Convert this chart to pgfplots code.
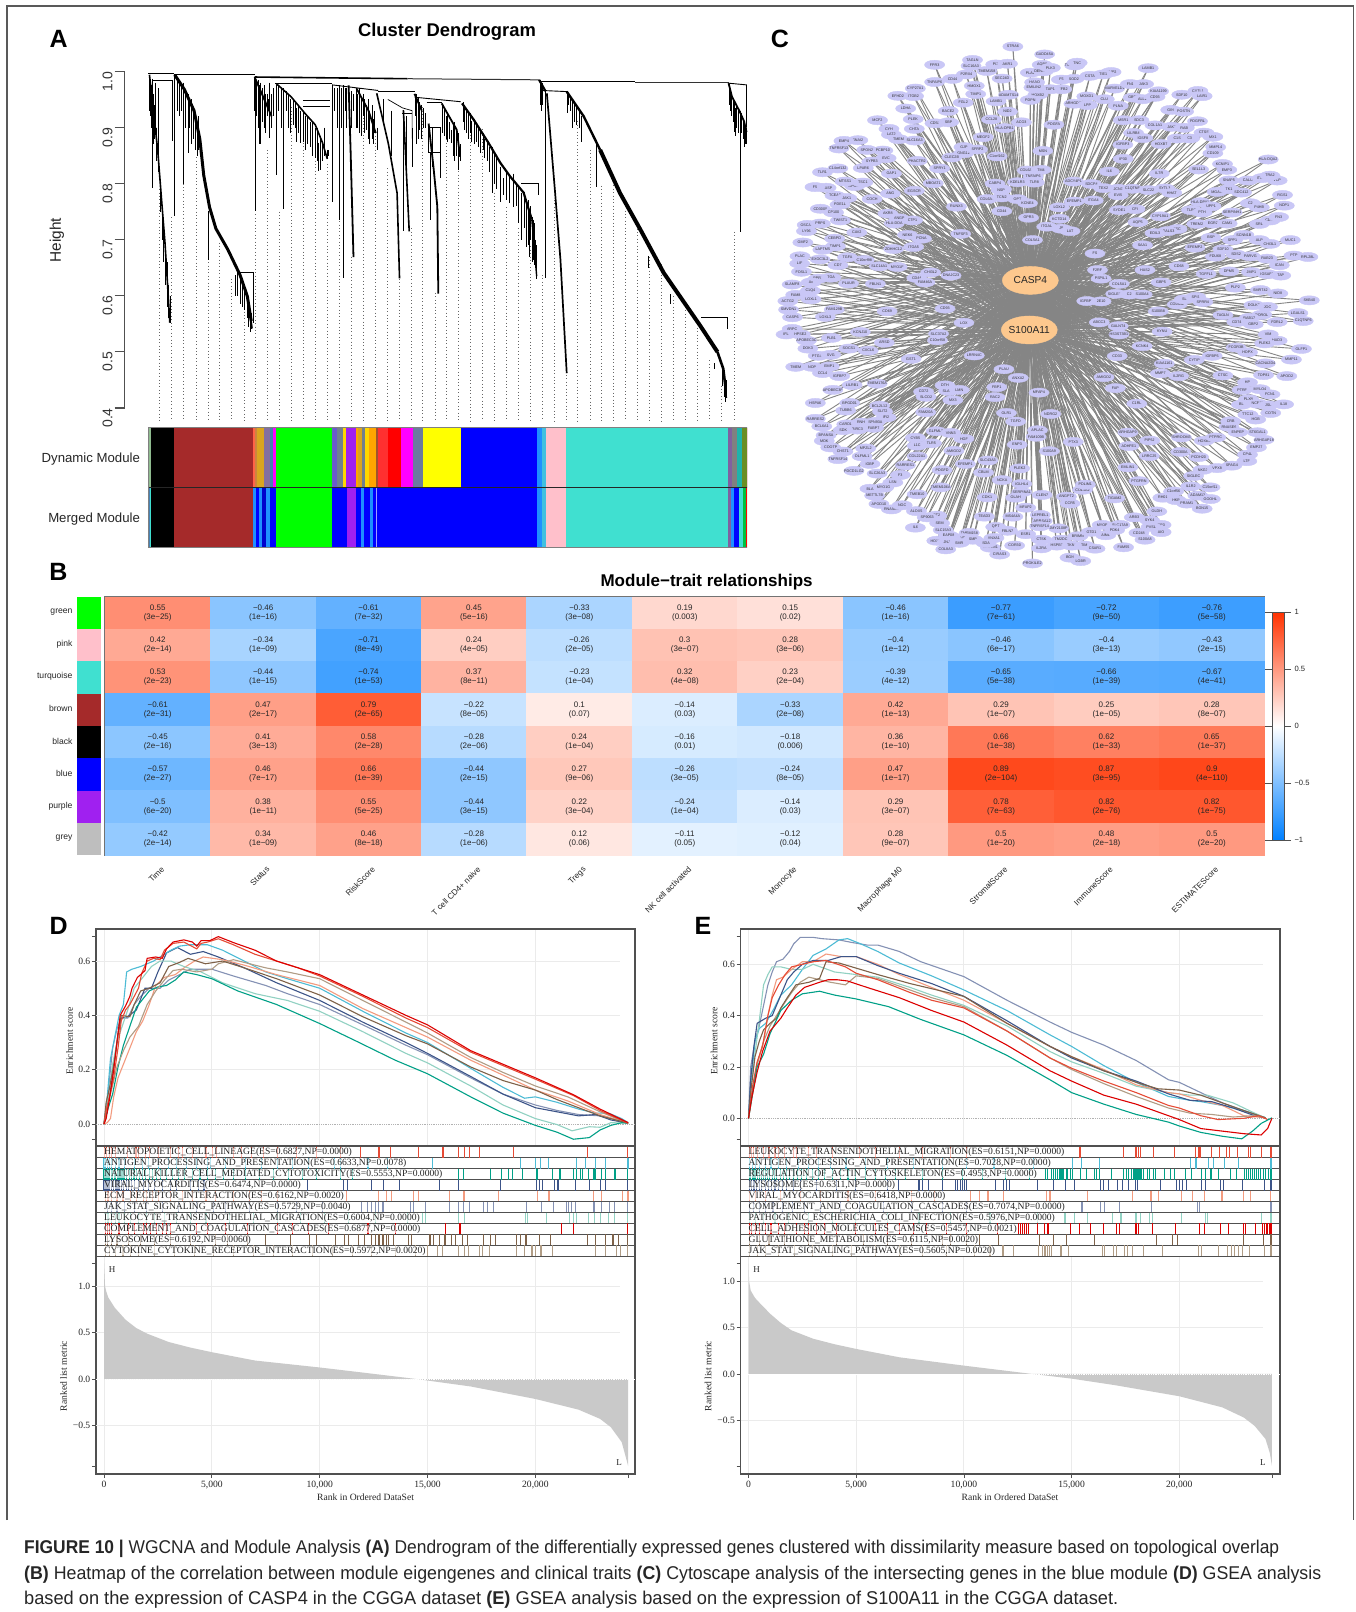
\documentclass[border=0pt]{standalone}
\usepackage{pgfplots}
\usepackage{pgfplotstable}
\usepackage{fontspec}
\pgfplotsset{compat=1.18}
\setmainfont{Liberation Sans}
\newfontfamily\tnr{Liberation Serif}
\newcommand\fs[1]{\fontsize{#1}{#1}\selectfont}
\definecolor{nc1}{HTML}{E64B35}\definecolor{nc2}{HTML}{4DBBD5}\definecolor{nc3}{HTML}{00A087}
\definecolor{nc4}{HTML}{3C5488}\definecolor{nc5}{HTML}{F39B7F}\definecolor{nc6}{HTML}{8491B4}
\definecolor{nc7}{HTML}{91D1C2}\definecolor{nc8}{HTML}{DC0000}\definecolor{nc9}{HTML}{7E6148}
\definecolor{nc10}{HTML}{B09C85}
\definecolor{boxc}{HTML}{505050}\definecolor{gridc}{HTML}{EBEBEB}
\definecolor{nodec}{HTML}{C9C7F6}\definecolor{hubc}{HTML}{FDC88E}\definecolor{edgec}{HTML}{858585}
\pgfplotsset{every axis/.append style={scale only axis},
  /pgf/number format/assume math mode=true,
  gsea/.style={scaled x ticks=false,axis line style={boxc,line width=1.2pt},tick style={boxc,line width=.8pt},
    tick align=outside,major tick length=4pt,ytick pos=left,xtick pos=bottom,
    xmajorgrids,major grid style={gridc,line width=1pt},
    tick label style={font=\tnr\fs{9.6},text=black!85},
    yticklabel style={inner sep=1.5pt}},
  es/.style={line width=1.1pt,forget plot}}
\newcommand\seg[5]{\xglobal\definecolor{x#1}{HTML}{#1}\addplot[fill=x#1,draw=none,forget plot] coordinates {(#2,#4)(#3,#4)(#3,#5)(#2,#5)} -- cycle;}
\newcommand\rug[4]{\gdef\tmpc{}\foreach \v in {#4}{\pgfmathsetmacro\rr{(\v-#3)*1.832}\xdef\tmpc{\tmpc(\rr e1,#2)}}%
  \edef\tmpp{\noexpand\addplot[only marks,mark=|,mark size=5.45pt,mark options={draw=#1,line width=1.1pt},forget plot] coordinates {\tmpc};}\tmpp}
\newcommand\rugtext[3]{\node[anchor=west,inner sep=0pt,fill=white,fill opacity=.62,text opacity=1,font=\tnr\fs{9.6},text=black!85] at (#1pt,-#2pt) {#3};}
\newcommand\hc[4]{\node[align=center,inner sep=0pt,font=\fs{8},text=black!85] at (axis cs:#1,#2) {#3\\[1pt](#4)};}
\pgfplotstableread{
x y label
680 48 STRA6
769 71 GADD45A
461 101 FPR3
567 87 TAGLN
563 104 SLC16A3
632 100 PI3
665 98 AKR1
762 101 AQP9
853 103 TMEM176A
860 95 TNC
1059 111 LAMB1
607 119 TMEM158
550 129 P2RX4
511 142 CD44
461 151 TNFAIP6
650 141 SEC24D
729 124 PLA2
765 120 DENND2D
785 110 PLK3
955 122 TIMP2
933 129 TIE1
896 133 CSTA
816 144 F5
851 142 SOD2
741 152 HAAO
739 167 EMILIN2
572 162 HMOX1
407 170 CYP27A1
402 192 ITGB2
358 191 EFHD2
576 186 TIMP1
668 188 ADAMTS14
750 188 HOXB2
817 172 TGFB2
785 172 TAP1
887 193 MOXD1
936 201 CLU
965 170 MARVELD1
1009 157 FN1
1046 157 JAK3
1017 196 GBP2
1043 201 ALL2
1088 178 KIAA1199
1078 194 CD93
1153 188 SDF10
1198 177 CYTL1
1210 192 LAIR1
541 211 FGL2
633 207 LAMB1
729 203 PDPN
665 237 NID2
499 235 BACE2
380 228 LDHA
401 259 PLEK
404 287 CHTA
462 271 CD58
500 268 SBP
620 260 CCL28
704 268 ACO3
657 285 HLA-DPB1
795 275 PDGFA
851 214 ARHGDIB
889 218 LPP
975 220 PLNA
989 262 MSR1
1033 262 SDC3
1078 277 COL1A1
1125 281 JAK2
1160 284 RAB
1122 232 GIN
1158 237 POSTN
1197 265 PDGFRL
1018 299 LILRB4
1044 314 IGSF8
1095 331 HOXB7
988 333 IGFBP3
1215 298 CTSS
1175 315 C3
1140 315 C1S
1240 310 MX1
301 262 MCF2
333 287 CYH
340 304 LAT2
360 317 TMEM
405 321 SLC16A3
597 311 MEGF2
543 340 GJP
542 358 GNG12
581 347 SFRP2
509 370 CLEC2B
636 367 C1orf162
764 351 MSN
1248 340 MMP14
1240 358 CD109
989 374 IP30
271 348 SPON2
316 350 PCBP10
325 372 EVC
285 382 SYPB3
246 320 SNAI2
207 322 EMP4
193 344 TNFRSF13
261 401 LPAR6
412 380 PHACTR2
475 402 SPRY1
340 417 GAP1
147 413 TLR1
190 402 C14orf132
1200 405 SEL1L3
1395 376 HLA-DQA2
1267 389 KCNIP1
1279 406 EMP3
950 411 IL6
1090 417 IL7R
720 408 COL6A2
759 406 TM4
737 426 TNFAIP6
740 443 TLR8
693 442 KDELR3
630 446 CABP4
457 445 MBOAT1
850 440 ADCY4P1
900 447 SDCP4
934 459 TEX2
975 461 JCN3
1015 461 C1QTNF
1060 465 SLC22
1105 460 SYTL3
1125 473 HHAT
975 480 EVI5
1285 437 SNAP5
1338 437 CALU
1378 430 ITGA3
1420 437 VCP
1400 423 TRA2
1252 470 MGAM
1285 462 TK1
1320 472 SDC412
1435 479 RGS1
1440 510 NDP1
237 453 APOL1
157 458 BNASP
210 440 MTSS1
260 443 TSC1
126 456 F5
404 467 EGSCR
337 475 ANG
286 491 COCH
182 481 TCEA3
215 488 JAK1
196 507 PDE1L
141 519 CD3000
178 530 CP100
197 553 TWIST1
330 533 AKR8
362 547 ANGP
348 562 HLA-DOA
399 553 CTP1
104 566 OSCAR
141 562 PRPS
102 584 LY96
243 588 CAV2
181 606 CEBPD
92 617 GMF2
648 462 GSDMD
647 465 NSP
608 491 COL6A3
649 486 TCN2
693 491 OPT
721 503 KCNE4
522 513 RUNX3
649 526 CD44
724 545 GPR3
810 515 LOXL2
852 498 EFEMP1
905 495 ITGA4
978 523 SYDE1
1022 520 CFI
1093 541 CYP19A1
1180 523 TLR3
1205 500 HLA-DPA1
1235 512 UPP1
1210 530 PTH
1294 530 SERPINH1
1345 503 C2
1370 515 P4HB
1030 558 AQP5
810 548 KCTD14
775 571 ITGAL
816 577 JB
840 584 LAT
534 592 TNFSF3
735 610 COL5A1
1240 562 EGR2
1280 562 CAM1
1195 563 TREM2
1140 578 TSC
1113 584 LGALS3
1078 590 EDIL3
1400 553 CD53
1424 543 FN3
1370 563 SRL
1043 625 SAA1
1235 603 BSP
1190 632 EFEMP2
1295 610 SPP1
1327 595 SCNN1B
1370 610 ALP
1400 621 CHI3L1
1457 610 MUC1
1268 637 SDF10
385 595 NEK6
424 606 PCNA
402 630 ITGA5
346 636 ZDHHC12
183 628 TIMP1
148 638 LAPTM5
140 666 EXOC3L2
217 660 TGFA
264 668 C10orf98
84 657 PLAC
83 678 LIF
190 683 CD7
88 702 FOSL1
306 686 SLC14A1
356 688 MYO1F
910 649 FS
917 697 F2RF
1145 686 CD68
1050 697 HAS2
1247 658 FDU68
1305 652 SDS2
1345 657 PARVG
1392 664 RAB23
1426 683 ICAN
1467 655 PTP
1506 659 RPL28L
450 704 CHI3L2
507 713 DNAJC23
411 720 CD44
434 733 FAM46A
135 722 PPR3
171 719 TGA
220 736 PLAUR
295 737 FBLN1
927 722 PSPIL1
978 737 COL5A1
1095 733 GBP5
1221 708 TGFFL1
1285 701 DPM5
1348 703 JMP1
1392 709 IGSAP1
1430 713 TAP
1303 748 PLP2
1373 755 SMRT42
1422 765 NID8
62 739 SLAMF8
115 733 Ac
113 757 C1Q4
72 769 FAM8
115 782 LOXL1
50 787 ACTG2
52 812 SMVDN1
180 812 FAM129B
155 833 LOXL3
63 834 CASP6
328 817 CD69
490 809 CD93
887 787 IGFBP2
927 788 2E10
968 766 SIGLEC9
1006 768 C2
1042 768 S100A4
1140 797 COL6A2
1160 782 SL
1192 775 SPI1
1212 790 SPRR4
1087 817 S100B8
1355 799 DOLK2
1393 804 JOC
1377 827 POROL
1342 836 RAB17
1268 828 TAGLN
1420 848 FDRL2
1307 848 CD74
1353 855 GBP2
1478 822 LGALS1
1510 785 SKB40
1493 845 C1QTNF6
543 850 LOX
922 849 ABCC3
975 860 GALNT4
977 884 HS3ST3B1
253 877 KCNJ10
472 882 SLC37A2
62 868 ARPC
45 884 IFL
85 884 HPSE2
172 894 PLB1
102 902 APOBEC3C
469 901 C10orf58
320 908 ARSD
1098 876 KYNU
1395 884 VIM
1420 902 HAD3
1385 910 PLEK2
106 925 DOK3
221 925 SOCS1
275 931 CXCL6
1042 918 KCNK4
1305 922 FCGR3B
1337 936 HOPX
1488 926 OLFP1
1238 946 IGFBP5
135 946 PTGS2
170 943 SVG
72 978 TMEM
118 978 NOP
166 977 EMP1
395 955 GST1
572 945 LRRN4C
972 947 CD33
1188 958 CYTIP
1104 969 KIAA1161
1387 968 CACNA2D4
1460 957 MMP11
147 996 CCL4
195 1005 IGFBP7
230 1031 LILRB1
300 1027 TMEM176A
655 985 PLAU
695 1010 ANXA2
1093 997 MMP7
1144 1005 IL2RG
1268 1003 CTSC
1382 1002 TOP81
1447 1005 APOD2
935 1008 AMIGO2
176 1045 APOBEC3F
430 1050 CD72
490 1032 DTH
500 1048 SLAH4
530 1045 LMN
635 1037 FBP1
967 1040 FAP
753 1053 MFAP4
1337 1023 HP
1322 1045 PTRF
1372 1043 MYLO4
1400 1058 FCN1
127 1083 HSPA6
223 1083 BPGD01
437 1065 SLCO2
512 1075 MX3
630 1066 RAC2
1027 1085 C1RL
1340 1072 PLXN
1365 1085 NCF19
1438 1087 IL18
1320 1088 BL
1395 1090 JSL
212 1105 TUBB6
307 1091 BCL2L12
315 1108 SLIT2
325 1125 IFI2
436 1110 FAM20A
662 1112 OLR1
786 1115 NDRG2
1338 1117 TTC12
1402 1112 COTN
127 1129 RARRES2
145 1151 BCL6A1
157 1177 BPANSA
152 1193 MDK
215 1145 CARD14
255 1140 RNH
295 1138 SPN93A
245 1160 BIRC3
290 1155 FABP7
205 1162 SDK
688 1137 TGFD
1360 1131 HGB
1290 1136 CRB
1285 1152 RNASE6
749 1162 APLAC
745 1181 FAM109B
465 1165 GLFML3
506 1170 VNN3
543 1187 HGF
452 1200 TLR5
407 1184 CYB5
412 1207 L1C
849 1196 PTX3
1002 1169 ARHGAP9
1063 1192 PIP5J
1152 1183 SHROOM3
1005 1208 ADHFE1
1216 1193 HOXB6
1248 1183 PTPRC
1310 1168 ENPEP
1365 1168 ST6GAL1
1383 1190 ARHGAP18
170 1212 COOTP
204 1224 CHST1
268 1215 MPZL2
258 1238 OLFML1
190 1246 TNFRSF14
280 1260 IGBP
412 1238 COL22A1
692 1204 ENP3
782 1223 S100A9
515 1222 AMIGO2
1062 1237 LRRC25
1150 1225 CD300A
1200 1240 PCDH20
1362 1212 EMP27
1337 1233 CP4L
1335 1252 LTF
235 1280 PDCD1LG2
300 1288 SLC26A3
379 1264 RARRES1
482 1278 PDGFD
547 1260 EFEMP1
610 1250 SLC43A3
598 1285 CBLM
699 1273 PLEK2
1002 1270 EMLIN1
1212 1277 NKG7
1252 1272 VPX8
1293 1265 SPAG4
365 1292 F3
344 1314 LSN
280 1332 BLA
318 1329 MYO1G
293 1352 METTL7B
305 1376 APOD10
340 1392 RNASE4
478 1328 TMEM106A
412 1348 TMEB10
608 1357 CDK1
650 1307 NCKA
705 1318 IGLHL4
705 1342 SERPINA1
688 1358 OLAH
762 1350 CLEN7
830 1355 ANGPT2
840 1375 CCR5
875 1335 COL1A2
883 1320 PDLIM1
965 1360 TIGAM2
1033 1310 PTGFRN
1186 1295 SIGLEC
1178 1325 IL1R2
1232 1328 C15orf11
1130 1340 C1orf56
1100 1358 RH01
1198 1352 ADAM12
1233 1362 GOOHL
1137 1365 HKB
1167 1375 PRAM1
1210 1390 BGN15
370 1380 NGC
410 1397 ALOX5
467 1410 PT2
440 1415 SP9063
475 1432 SEM
407 1445 IL6
485 1452 SLC15A3
500 1468 EAP08
558 1460 TMEM158
540 1475 VT
467 1483 HOXB3
495 1488 JNJ
530 1489 SMR
568 1480 SMP
492 1508 COL8A3
617 1503 SECTM1
643 1523 CIRAS3
627 1475 ANXA1
605 1490 SDA
632 1443 QPT
665 1454 FBLN7
600 1413 TEAD3
680 1413 MS4A4A
716 1387 MFAP2
757 1408 LEPREL1
762 1426 ARRSA12
755 1441 TNFRSF14
808 1447 JMY2108P
716 1464 ESR1
685 1497 COR30
760 1480 CTSK
815 1480 TM2DC
760 1505 IL2RA
803 1497 HSPB7
845 1497 TKN4
880 1497 TIM
910 1506 CSAR1
840 1532 BGN
870 1542 LGBR
735 1549 PROKILE2
862 1470 BRIMN
900 1457 GTD1
930 1437 MYOF
940 1467 AIM1
980 1437 SLC17A9
965 1452 PDK4
1020 1415 ARB3
1063 1424 SYK4
1095 1437 TIP3
1067 1443 PVSL
1033 1460 CD248
1095 1458 AIO
1050 1480 S100A8
990 1502 FAM55
1083 1398 OLDH
}\nettable
\pgfplotstableread{
x t
329 .79
354 .74
378 .8
404 .847
429 .66
453 .695
478 .63
503 .59
527 .745
552 .86
576 .75
601 .936
626 .915
650 .847
675 .835
700 .745
724 .67
749 .936
774 .885
798 .827
823 .63
848 .72
872 .936
897 .605
921 .885
946 .822
971 .923
995 .898
1020 .784
1045 .758
1069 .72
1094 .688
1118 .637
1143 .771
1168 .465
1192 .911
1217 .86
1241 .796
1266 .803
1291 .752
1315 .726
1340 .669
1365 .656
1389 .599
1414 .574
1438 .555
1463 .485
1488 .44
1515 .714
}\dottbl
\pgfplotstableread{
x t b
314 .987 .793
320 .98 .9
327 .97 .88
360 .99 .742
355 .984 .876
378 .98 .8
388 .96 .854
395 .95 .87
410 .92 .86
430 .752 .663
485 .637 .599
500 .62 .58
510 .6 .56
516 .57 .535
522 .642 .552
527 .99 .752
532 .985 .9
538 .98 .87
545 .975 .9
556 .98 .882
570 .975 .815
585 .97 .755
600 .95 .89
612 .935 .875
620 .93 .872
630 .92 .86
640 .91 .865
650 .9 .845
657 .873 .822
670 .9 .85
685 .975 .768
700 .975 .735
709 .975 .631
715 .97 .9
735 .97 .9
742 .97 .89
750 .96 .92
760 .95 .88
768 .94 .88
773 .93 .89
790 .95 .905
808 .93 .85
832 .93 .715
838 .92 .8
851 .9 .83
858 .96 .9
863 .955 .88
870 .94 .88
887 .854 .736
908 .854 .81
893 .9 .83
932 .896 .872
920 .92 .88
938 .91 .84
946 .87 .824
973 .912 .875
987 .902 .866
1000 .88 .845
1015 .866 .784
1032 .83 .767
1039 .81 .78
1059 .818 .758
1065 .8 .76
1076 .784 .7
1087 .772 .687
1095 .76 .7
1100 .736 .664
1104 .7 .65
1110 .801 .779
1125 .965 .631
1118 .98 .94
1171 .96 .925
1180 .95 .9
1200 .92 .875
1231 .877 .794
1338 .671 .65
1383 .603 .585
1473 .48 .47
1498 .45 .418
1501 .561 .541
1505 .975 .94
1515 .943 .892
1518 .935 .885
1527 .93 .714
1535 .911 .866
1540 .9 .87
575 .975 .93
580 .97 .9
590 .965 .93
595 .96 .9
605 .95 .905
610 .945 .9
615 .94 .89
625 .93 .875
635 .92 .87
645 .91 .85
655 .9 .84
660 .885 .825
665 .875 .84
675 .86 .845
678 .86 .85
524 .99 .93
528 .985 .92
534 .98 .92
536 .975 .87
541 .97 .91
548 .96 .89
551 .96 .92
553 .95 .93
560 .96 .9
563 .97 .92
308 .99 .93
310 .985 .92
312 .975 .9
316 .96 .87
319 .94 .88
323 .9 .84
326 .88 .82
330 .8 .75
335 .76 .7
338 .73 .66
342 .68 .62
345 .66 .58
348 .62 .56
352 .6 .552
365 .99 .93
370 .98 .92
375 .975 .93
383 .965 .9
390 .95 .9
398 .935 .88
403 .92 .86
407 .9 .85
490 .65 .6
495 .635 .585
505 .61 .575
512 .59 .545
518 .57 .54
690 .97 .93
695 .97 .9
705 .97 .9
712 .97 .93
725 .965 .9
730 .96 .93
738 .96 .9
745 .955 .885
752 .95 .89
756 .94 .895
763 .93 .87
770 .915 .87
778 .9 .86
856 .96 .92
860 .955 .87
866 .945 .895
873 .935 .9
877 .925 .9
912 .94 .89
916 .935 .885
924 .925 .875
928 .91 .88
935 .905 .85
942 .895 .85
945 .89 .83
950 .87 .84
955 .945 .91
958 .94 .895
962 .935 .89
966 .93 .88
970 .925 .89
978 .915 .87
983 .905 .875
992 .895 .855
997 .89 .86
1005 .875 .84
1010 .865 .82
1020 .855 .8
1025 .845 .79
1045 .82 .77
1050 .815 .765
1070 .795 .73
1082 .785 .72
1090 .77 .69
1093 .755 .67
1098 .74 .66
1102 .73 .655
1106 .69 .63
1506 .97 .93
1510 .96 .92
1513 .95 .91
1520 .94 .9
1523 .935 .89
1530 .925 .89
1533 .915 .88
1538 .905 .87
1173 .96 .94
1176 .955 .93
1185 .945 .91
1190 .94 .905
1195 .93 .9
1114 .985 .94
1116 .98 .93
1490 .47 .44
1494 .455 .42
1496 .44 .41
}\spikes
\begin{document}
\begin{tikzpicture}
\path[use as bounding box,fill=white] (0,0) rectangle (1356pt,-1612pt);
% frame
\draw[gray!70!black,line width=1.2pt] (7pt,-1520pt) -- (7pt,-6pt) -- (1353.5pt,-6pt) -- (1353.5pt,-1520pt);
% panel letters
\foreach \l/\xx/\yy in {A/58.6/39,B/58.5/572,C/780/39,D/58.6/926,E/703/926}
  \node[font=\bfseries\fs{25}] at (\xx pt,-\yy pt) {\l};
\node[font=\bfseries\fs{18.4}] at (447pt,-31.5pt) {Cluster Dendrogram};
\node[font=\bfseries\fs{17}] at (706.6pt,-582pt) {Module−trait relationships};
% A: height axis
\begin{axis}[at={(124.6pt,-408pt)},anchor=south west,width=50pt,height=336.6pt,
  axis y line*=left,axis x line=none,xmin=0,xmax=1,ymin=.4,ymax=1,
  ytick={.4,.5,.6,.7,.8,.9,1},yticklabels={0.4,0.5,0.6,0.7,0.8,0.9,1.0},
  tick align=outside,major tick length=10pt,
  axis line style={boxc,line width=1.1pt},tick style={boxc,line width=1.1pt},
  yticklabel style={rotate=90,anchor=south,font=\fs{14},text=black!80,inner sep=2pt,xshift=-10pt},
  ytick pos=left]
\end{axis}
\node[rotate=90,font=\fs{15.4},text=black!85] at (57pt,-240pt) {Height};
% A: dendrogram
\begin{axis}[at={(148pt,-421pt)},anchor=south west,width=599pt,height=355.2pt,
  hide axis,clip=false,xmin=305,xmax=1541,ymin=.3768,ymax=1.01]
\addplot[draw=none,forget plot,error bars/.cd,y dir=minus,y explicit,error mark=none,
  error bar style={black!60,line width=.8pt,dash pattern=on 1pt off 2.4pt}]
  table[x=x,y=t,y error minus expr=\thisrow{t}-0.3768] {\dottbl};
\addplot[draw=none,forget plot,error bars/.cd,y dir=minus,y explicit,error mark=none,
  error bar style={black,line width=1pt}]
  table[x=x,y=t,y error minus expr=\thisrow{t}-\thisrow{b}] {\spikes};
% merges
\addplot[black,line width=1pt,forget plot] coordinates {(305,.9965)(358,.9965)};
\addplot[black,line width=1.2pt,forget plot] coordinates {(358,.994)(525,.994)};
\addplot[black,line width=1.6pt,forget plot] coordinates {(525,.99)(840,.987)};
\addplot[black!80,line width=1pt,forget plot] coordinates {(840,.987)(1112,.985)};
\addplot[black,line width=1.6pt,forget plot] coordinates {(1112,.982)(1310,.982)};
\addplot[black!80,line width=1pt,forget plot] coordinates {(1310,.981)(1503,.981)};
\addplot[black,line width=.9pt,forget plot] coordinates {(1503,.979)(1540,.976)(1540,.9)};
\addplot[black,line width=.9pt,forget plot] coordinates {(1118,.966)(1170,.964)};
\addplot[black,line width=.9pt,forget plot] coordinates {(568,.979)(685,.979)};
\addplot[black,line width=.9pt,forget plot] coordinates {(685,.976)(780,.966)};
\addplot[black,line width=.9pt,forget plot] coordinates {(780,.965)(855,.965)};
\addplot[black,line width=.9pt,forget plot] coordinates {(855,.954)(950,.946)};
\addplot[black,line width=.9pt,forget plot] coordinates {(880,.944)(911,.944)};
\addplot[black,line width=.9pt,forget plot] coordinates {(625,.949)(680,.949)};
\addplot[black,line width=.9pt,forget plot] coordinates {(625,.937)(680,.937)};
\addplot[black,line width=.7pt,forget plot] coordinates {(800,.95)(830,.935)(850,.93)(850,.88)};
\addplot[black,line width=.7pt,forget plot] coordinates {(830,.925)(850,.925)};
\addplot[black,line width=.7pt,forget plot] coordinates {(883,.9)(908,.9)(908,.855)(883,.855)(883,.9)};
\addplot[black,line width=.7pt,forget plot] coordinates {(490,.642)(522,.642)};
\addplot[black,line width=.7pt,forget plot] coordinates {(1447,.561)(1501,.561)};
\addplot[black,line width=.7pt,forget plot] coordinates {(1075,.801)(1110,.801)};
\addplot[black,line width=.7pt,forget plot] coordinates {(315,.984)(355,.984)};
% branches
\addplot[black,line width=1.6pt,forget plot] coordinates {(308,.994)(325,.86)(333,.771)(340,.695)(345,.625)(350,.552)};
\addplot[black,line width=3pt,forget plot] coordinates {(360,.994)(380,.968)(400,.93)(412,.879)(420,.815)(432,.758)(445,.72)(470,.682)(495,.637)(510,.599)(518,.555)};
\addplot[black,line width=1.3pt,forget plot] coordinates {(518,.555)(520,.542)};
\addplot[black,line width=1.8pt,forget plot] coordinates {(525,.99)(545,.95)(560,.92)};
\addplot[black,line width=1.6pt,forget plot] coordinates {(570,.978)(600,.955)(630,.924)(650,.905)(665,.873)(675,.844)};
\addplot[black,line width=1.8pt,forget plot] coordinates {(719,.975)(723,.86)(729,.669)};
\addplot[black,line width=1.8pt,forget plot] coordinates {(735,.97)(760,.93)(775,.89)};
\addplot[black,line width=1.6pt,forget plot] coordinates {(777,.961)(801,.871)(819,.783)(824,.631)};
\addplot[black,line width=1.6pt,forget plot] coordinates {(832,.931)(844,.715)};
\addplot[black,line width=1.8pt,forget plot] coordinates {(884,.907)(894,.83)(902,.759)(904,.604)};
\addplot[black,line width=1.8pt,forget plot] coordinates {(855,.96)(870,.93)};
\addplot[black,line width=1.8pt,forget plot] coordinates {(911,.943)(942,.896)(949,.848)};
\addplot[black,line width=2.2pt,forget plot] coordinates {(953,.943)(977,.914)(1008,.872)(1032,.837)(1052,.813)(1080,.784)(1097,.736)};
\addplot[black,line width=1.4pt,forget plot] coordinates {(1097,.736)(1107,.635)};
\addplot[black,line width=2.2pt,forget plot] coordinates {(1112,.985)(1125,.965)};
\addplot[black,line width=1.7pt,forget plot] coordinates {(1128,.961)(1145,.784)(1156,.665)(1169,.462)};
\addplot[black,line width=2.4pt,forget plot] coordinates {(1169,.964)(1204,.92)(1238,.86)};
\addplot[black,line width=4pt,forget plot] coordinates {(1238,.86)(1279,.783)(1321,.718)(1369,.641)(1445,.546)(1480,.5)};
\addplot[black,line width=2.6pt,forget plot] coordinates {(1480,.5)(1492,.47)(1497,.434)};
\addplot[black,line width=.9pt,forget plot] coordinates {(1497,.434)(1499,.418)};
\addplot[black,line width=1.8pt,forget plot] coordinates {(1503,.979)(1510,.955)(1525,.93)(1535,.911)(1540,.892)};
\end{axis}
% A: ribbon
\begin{axis}[at={(148pt,-547.5pt)},anchor=south west,width=599pt,height=120pt,hide axis,xmin=305,xmax=1541,ymin=0,ymax=2]
\seg{8FBC8F}{305}{312}{1}{2}\seg{000000}{312}{358}{1}{2}\seg{A52A2A}{358}{522}{1}{2}
\seg{FF6347}{522}{526}{1}{2}\seg{CD853F}{526}{530}{1}{2}\seg{DAA520}{530}{545}{1}{2}\seg{8470A0}{545}{556}{1}{2}\seg{4682B4}{556}{562}{1}{2}\seg{FF00FF}{562}{570}{1}{2}
\seg{00FF00}{570}{684}{1}{2}\seg{6A5ACD}{684}{695}{1}{2}\seg{708090}{695}{708}{1}{2}\seg{FFD700}{708}{713}{1}{2}\seg{A020F0}{713}{735}{1}{2}\seg{FFA500}{735}{738}{1}{2}\seg{DAA520}{738}{747}{1}{2}\seg{708090}{747}{753}{1}{2}\seg{FFD700}{753}{760}{1}{2}\seg{FFA500}{760}{775}{1}{2}\seg{A0522D}{775}{780}{1}{2}
\seg{FF3030}{780}{800}{1}{2}\seg{FF0000}{800}{828}{1}{2}\seg{FF00FF}{828}{852}{1}{2}\seg{6C7BA0}{852}{872}{1}{2}\seg{FFFF00}{872}{950}{1}{2}\seg{0000FF}{950}{1108}{1}{2}\seg{1E90FF}{1108}{1118}{1}{2}\seg{40C0E0}{1118}{1126}{1}{2}\seg{FFC0CB}{1126}{1168}{1}{2}\seg{40E0D0}{1168}{1501}{1}{2}
\seg{8060A0}{1501}{1510}{1}{2}\seg{808080}{1510}{1520}{1}{2}\seg{20B2AA}{1520}{1530}{1}{2}\seg{6B8E23}{1530}{1540}{1}{2}\seg{FF0000}{1540}{1541}{1}{2}
\seg{4682B4}{305}{309}{0}{1}\seg{40E0D0}{309}{312}{0}{1}\seg{000000}{312}{358}{0}{1}\seg{A52A2A}{358}{522}{0}{1}\seg{1E90FF}{522}{528}{0}{1}\seg{0000FF}{528}{535}{0}{1}\seg{1E90FF}{535}{540}{0}{1}\seg{0000CD}{540}{548}{0}{1}\seg{1E90FF}{548}{556}{0}{1}\seg{0000FF}{556}{570}{0}{1}
\seg{00FF00}{570}{684}{0}{1}\seg{0000FF}{684}{716}{0}{1}\seg{A020F0}{716}{734}{0}{1}\seg{0000FF}{734}{744}{0}{1}\seg{1E90FF}{744}{750}{0}{1}\seg{0000FF}{750}{764}{0}{1}\seg{1E90FF}{764}{770}{0}{1}\seg{0000FF}{770}{775}{0}{1}\seg{A0A0FF}{775}{778}{0}{1}\seg{0000FF}{778}{1108}{0}{1}
\seg{1E90FF}{1108}{1118}{0}{1}\seg{40C0E0}{1118}{1126}{0}{1}\seg{FFC0CB}{1126}{1168}{0}{1}\seg{40E0D0}{1168}{1501}{0}{1}\seg{8060A0}{1501}{1508}{0}{1}\seg{1E90FF}{1508}{1515}{0}{1}\seg{0000FF}{1515}{1525}{0}{1}\seg{40E0D0}{1525}{1532}{0}{1}\seg{00C040}{1532}{1539}{0}{1}\seg{FF0000}{1539}{1541}{0}{1}
\addplot[black!85,line width=1.5pt,forget plot] coordinates {(305,1)(1541,1)};
\addplot[gray,line width=.9pt,forget plot] coordinates {(305,0)(1541,0)(1541,2)(305,2)(305,0)};
\end{axis}
\node[anchor=east,font=\fs{13.2},text=black!85] at (143.5pt,-459pt) {Dynamic Module};
\node[anchor=east,font=\fs{13.2},text=black!85] at (143.5pt,-519pt) {Merged Module};
% C: network
\begin{axis}[at={(770pt,-30pt)},anchor=north west,width=560pt,height=540pt,hide axis,clip=false,
  xmin=0,xmax=1568,ymin=0,ymax=1568,y dir=reverse]
\addplot[edgec,line width=.9pt,forget plot,quiver={u=729-\thisrow{x},v=727-\thisrow{y}}] table[x=x,y=y] {\nettable};
\addplot[edgec,line width=.9pt,forget plot,quiver={u=726-\thisrow{x},v=871-\thisrow{y}}] table[x=x,y=y] {\nettable};
\addplot[only marks,mark=*,mark size=4.6pt,mark options={xscale=2.2,fill=nodec,draw=nodec},forget plot,
  nodes near coords,point meta=explicit symbolic,
  every node near coord/.append style={anchor=center,inner sep=0pt,font=\fs{3.7},text=black!80}]
  table[x=x,y=y,meta=label] {\nettable};
\addplot[only marks,mark=*,mark size=14pt,mark options={xscale=2,fill=hubc,draw=hubc},forget plot,
  nodes near coords,point meta=explicit symbolic,
  every node near coord/.append style={anchor=center,inner sep=0pt,font=\fs{10.2},text=black!85}]
  table[x=x,y=y,meta=label] {
x y label
729 727 CASP4
726 871 S100A11
};
\end{axis}
% B: heatmap
\begin{axis}[at={(105pt,-855.3pt)},anchor=south west,width=1159.6pt,height=258.6pt,clip=false,
  xmin=-.5,xmax=10.5,ymin=-.5,ymax=7.5,y dir=reverse,
  colormap={corr}{rgb255(0)=(0,128,255) rgb255(1)=(255,255,255) rgb255(2)=(255,50,0)},
  point meta min=-1,point meta max=1,
  axis line style={boxc!80,line width=1.2pt},
  xtick={0,...,10},ytick={0,...,7},tick style={draw=none},
  xticklabels={Time,Status,RiskScore,T cell CD4+ naive,Tregs,NK cell activated,Monocyte,Macrophage M0,StromalScore,ImmuneScore,ESTIMATEScore},
  yticklabels={green,pink,turquoise,brown,black,blue,purple,grey},
  xticklabel style={rotate=45,anchor=north east,font=\fs{8.2},text=black!85,yshift=-6pt,xshift=-2pt},
  yticklabel style={font=\fs{8.6},text=black!85,xshift=-29pt,yshift=1pt},
  colorbar,colorbar style={at={(1.0064,.941)},anchor=north west,width=12pt,height=228pt,
    ytick={-1,-.5,0,.5,1},yticklabels={−1,−0.5,0,0.5,1},
    tick align=outside,major tick length=7pt,tick style={draw=boxc,line width=.8pt},
    yticklabel style={font=\fs{7.6},text=black!85},axis line style={boxc,line width=.9pt}}]
\addplot[matrix plot*,mesh/cols=11,point meta=explicit,forget plot] table[meta=v] {
x y v
0 0 .55
1 0 -.46
2 0 -.61
3 0 .45
4 0 -.33
5 0 .19
6 0 .15
7 0 -.46
8 0 -.77
9 0 -.72
10 0 -.76
0 1 .42
1 1 -.34
2 1 -.71
3 1 .24
4 1 -.26
5 1 .3
6 1 .28
7 1 -.4
8 1 -.46
9 1 -.4
10 1 -.43
0 2 .53
1 2 -.44
2 2 -.74
3 2 .37
4 2 -.23
5 2 .32
6 2 .23
7 2 -.39
8 2 -.65
9 2 -.66
10 2 -.67
0 3 -.61
1 3 .47
2 3 .79
3 3 -.22
4 3 .1
5 3 -.14
6 3 -.33
7 3 .42
8 3 .29
9 3 .25
10 3 .28
0 4 -.45
1 4 .41
2 4 .58
3 4 -.28
4 4 .24
5 4 -.16
6 4 -.18
7 4 .36
8 4 .66
9 4 .62
10 4 .65
0 5 -.57
1 5 .46
2 5 .66
3 5 -.44
4 5 .27
5 5 -.26
6 5 -.24
7 5 .47
8 5 .89
9 5 .87
10 5 .9
0 6 -.5
1 6 .38
2 6 .55
3 6 -.44
4 6 .22
5 6 -.24
6 6 -.14
7 6 .29
8 6 .78
9 6 .82
10 6 .82
0 7 -.42
1 7 .34
2 7 .46
3 7 -.28
4 7 .12
5 7 -.11
6 7 -.12
7 7 .28
8 7 .5
9 7 .48
10 7 .5
};
\seg{00FF00}{-.769}{-.534}{-.5}{.5}\seg{FFC0CB}{-.769}{-.534}{.5}{1.5}\seg{40E0D0}{-.769}{-.534}{1.5}{2.5}\seg{A52A2A}{-.769}{-.534}{2.5}{3.5}
\seg{000000}{-.769}{-.534}{3.5}{4.5}\seg{0000FF}{-.769}{-.534}{4.5}{5.5}\seg{A020F0}{-.769}{-.534}{5.5}{6.5}\seg{BEBEBE}{-.769}{-.534}{6.5}{7.5}
\hc{0}{0}{0.55}{3e−25}\hc{1}{0}{−0.46}{1e−16}\hc{2}{0}{−0.61}{7e−32}\hc{3}{0}{0.45}{5e−16}\hc{4}{0}{−0.33}{3e−08}\hc{5}{0}{0.19}{0.003}\hc{6}{0}{0.15}{0.02}\hc{7}{0}{−0.46}{1e−16}\hc{8}{0}{−0.77}{7e−61}\hc{9}{0}{−0.72}{9e−50}\hc{10}{0}{−0.76}{5e−58}
\hc{0}{1}{0.42}{2e−14}\hc{1}{1}{−0.34}{1e−09}\hc{2}{1}{−0.71}{8e−49}\hc{3}{1}{0.24}{4e−05}\hc{4}{1}{−0.26}{2e−05}\hc{5}{1}{0.3}{3e−07}\hc{6}{1}{0.28}{3e−06}\hc{7}{1}{−0.4}{1e−12}\hc{8}{1}{−0.46}{6e−17}\hc{9}{1}{−0.4}{3e−13}\hc{10}{1}{−0.43}{2e−15}
\hc{0}{2}{0.53}{2e−23}\hc{1}{2}{−0.44}{1e−15}\hc{2}{2}{−0.74}{1e−53}\hc{3}{2}{0.37}{8e−11}\hc{4}{2}{−0.23}{1e−04}\hc{5}{2}{0.32}{4e−08}\hc{6}{2}{0.23}{2e−04}\hc{7}{2}{−0.39}{4e−12}\hc{8}{2}{−0.65}{5e−38}\hc{9}{2}{−0.66}{1e−39}\hc{10}{2}{−0.67}{4e−41}
\hc{0}{3}{−0.61}{2e−31}\hc{1}{3}{0.47}{2e−17}\hc{2}{3}{0.79}{2e−65}\hc{3}{3}{−0.22}{8e−05}\hc{4}{3}{0.1}{0.07}\hc{5}{3}{−0.14}{0.03}\hc{6}{3}{−0.33}{2e−08}\hc{7}{3}{0.42}{1e−13}\hc{8}{3}{0.29}{1e−07}\hc{9}{3}{0.25}{1e−05}\hc{10}{3}{0.28}{8e−07}
\hc{0}{4}{−0.45}{2e−16}\hc{1}{4}{0.41}{3e−13}\hc{2}{4}{0.58}{2e−28}\hc{3}{4}{−0.28}{2e−06}\hc{4}{4}{0.24}{1e−04}\hc{5}{4}{−0.16}{0.01}\hc{6}{4}{−0.18}{0.006}\hc{7}{4}{0.36}{1e−10}\hc{8}{4}{0.66}{1e−38}\hc{9}{4}{0.62}{1e−33}\hc{10}{4}{0.65}{1e−37}
\hc{0}{5}{−0.57}{2e−27}\hc{1}{5}{0.46}{7e−17}\hc{2}{5}{0.66}{1e−39}\hc{3}{5}{−0.44}{2e−15}\hc{4}{5}{0.27}{9e−06}\hc{5}{5}{−0.26}{3e−05}\hc{6}{5}{−0.24}{8e−05}\hc{7}{5}{0.47}{1e−17}\hc{8}{5}{0.89}{2e−104}\hc{9}{5}{0.87}{3e−95}\hc{10}{5}{0.9}{4e−110}
\hc{0}{6}{−0.5}{6e−20}\hc{1}{6}{0.38}{1e−11}\hc{2}{6}{0.55}{5e−25}\hc{3}{6}{−0.44}{3e−15}\hc{4}{6}{0.22}{3e−04}\hc{5}{6}{−0.24}{1e−04}\hc{6}{6}{−0.14}{0.03}\hc{7}{6}{0.29}{3e−07}\hc{8}{6}{0.78}{7e−63}\hc{9}{6}{0.82}{2e−76}\hc{10}{6}{0.82}{1e−75}
\hc{0}{7}{−0.42}{2e−14}\hc{1}{7}{0.34}{1e−09}\hc{2}{7}{0.46}{8e−18}\hc{3}{7}{−0.28}{1e−06}\hc{4}{7}{0.12}{0.06}\hc{5}{7}{−0.11}{0.05}\hc{6}{7}{−0.12}{0.04}\hc{7}{7}{0.28}{9e−07}\hc{8}{7}{0.5}{1e−20}\hc{9}{7}{0.48}{2e−18}\hc{10}{7}{0.5}{2e−20}
\end{axis}
% D: enrichment
\begin{axis}[gsea,at={(96pt,-1146pt)},anchor=south west,width=539pt,height=217pt,
  xmin=-371,xmax=24618,ymin=-.081,ymax=.718,
  xtick={0,5000,10000,15000,20000},xticklabels={},xtick style={draw=none},
  ytick={-.055,0,.2,.4,.6,.69},yticklabels={,0.0,0.2,0.4,0.6,}]
\addplot[gridc,line width=1pt,forget plot] coordinates {(-371,.6)(23920,.6)};
\addplot[gridc,line width=1pt,forget plot] coordinates {(-371,.4)(23920,.4)};
\addplot[gridc,line width=1pt,forget plot] coordinates {(-371,.2)(23920,.2)};
\addplot[gray!60,line width=.8pt,densely dotted,forget plot] coordinates {(-371,0)(24618,0)};
\addplot[es,nc6] coordinates {(0,0)(200,.12)(400,.28)(600,.35)(800,.39)(1100,.39)(1400,.44)(1700,.47)(2100,.5)(2600,.5)(3000,.53)(3500,.55)(4000,.57)(5000,.57)(6000,.545)(7500,.51)(8500,.48)(10000,.44)(12000,.365)(14000,.29)(15000,.255)(17000,.17)(18500,.11)(20000,.07)(21000,.05)(22000,.035)(23000,.03)(23800,.015)(24300,.003)};
\addplot[es,nc4] coordinates {(0,0)(150,.05)(350,.15)(500,.24)(650,.33)(800,.39)(1100,.395)(1500,.42)(1900,.5)(2200,.5)(2500,.56)(2900,.63)(3400,.65)(4000,.625)(4600,.635)(5300,.615)(6500,.575)(8000,.52)(10000,.455)(12000,.375)(14000,.3)(15000,.26)(17000,.175)(18500,.11)(20000,.06)(21000,.045)(22000,.03)(22800,.035)(23500,.015)(24300,.003)};
\addplot[es,nc2] coordinates {(0,0)(150,.1)(300,.24)(500,.32)(700,.4)(900,.44)(1050,.56)(1300,.57)(1700,.58)(2000,.59)(2300,.6)(2700,.62)(3100,.64)(3500,.655)(4000,.66)(4800,.66)(5500,.64)(6500,.6)(7500,.56)(8500,.535)(10000,.5)(12000,.415)(14000,.335)(15000,.3)(17000,.205)(18500,.135)(19500,.095)(20000,.1)(21000,.08)(22000,.055)(22800,.04)(23400,.04)(24000,.02)(24300,.005)};
\addplot[es,nc5] coordinates {(0,0)(150,.005)(300,.02)(450,.1)(650,.17)(900,.22)(1200,.28)(1500,.34)(1800,.38)(2100,.44)(2400,.51)(2800,.54)(3300,.55)(3800,.58)(4200,.6)(4600,.615)(5500,.605)(6500,.585)(8000,.55)(10000,.51)(12000,.425)(14000,.355)(15000,.32)(17000,.235)(18500,.18)(20000,.125)(21500,.085)(23000,.035)(24300,.003)};
\addplot[es,nc7] coordinates {(0,0)(200,.1)(400,.22)(600,.3)(800,.35)(1100,.42)(1400,.5)(1800,.54)(2200,.58)(2600,.6)(3100,.6)(3700,.58)(4500,.56)(5500,.52)(7000,.48)(8500,.455)(10000,.415)(12000,.34)(14000,.26)(15000,.225)(17000,.14)(18500,.07)(20000,.02)(21000,-.002)(21700,-.025)(22500,-.01)(23000,-.012)(23500,.005)(24300,.003)};
\addplot[es,nc3] coordinates {(0,0)(200,.06)(400,.11)(650,.21)(900,.29)(1200,.36)(1500,.43)(1800,.46)(2100,.49)(2500,.505)(2900,.51)(3300,.53)(3700,.56)(4300,.55)(5000,.535)(6200,.49)(8000,.44)(10000,.37)(11700,.305)(13500,.235)(15000,.185)(17000,.1)(18500,.04)(20000,-.005)(21000,-.03)(21760,-.056)(22500,-.05)(23000,-.022)(23500,-.005)(24000,.005)(24300,.003)};
\addplot[es,nc10] coordinates {(0,0)(100,.05)(300,.11)(600,.21)(900,.27)(1200,.32)(1600,.36)(2000,.44)(2400,.49)(2800,.53)(3200,.565)(3600,.57)(4300,.56)(5000,.57)(5300,.59)(6000,.605)(7500,.575)(8500,.56)(10000,.535)(12000,.455)(14000,.375)(15000,.335)(17000,.245)(18500,.19)(20000,.14)(21500,.1)(23000,.045)(24300,.003)};
\addplot[es,nc9] coordinates {(0,0)(100,.08)(250,.13)(500,.24)(650,.33)(800,.4)(1200,.395)(1400,.44)(1700,.49)(2100,.5)(2600,.52)(3000,.58)(3500,.595)(3900,.61)(4700,.59)(5500,.6)(6500,.575)(8000,.535)(10000,.475)(12000,.395)(14000,.325)(15000,.295)(17000,.21)(18500,.16)(20000,.125)(21000,.09)(22000,.06)(23000,.03)(24300,.003)};
\addplot[es,nc1] coordinates {(0,0)(100,.05)(250,.1)(450,.17)(650,.28)(800,.38)(1000,.42)(1200,.44)(1400,.47)(1600,.5)(1750,.555)(2000,.6)(2300,.61)(2600,.605)(2800,.64)(3200,.665)(3700,.67)(4300,.645)(4500,.665)(4800,.67)(5300,.682)(6000,.66)(7000,.625)(8000,.6)(9000,.575)(10000,.545)(12000,.47)(14000,.39)(15000,.355)(17000,.265)(20000,.165)(21760,.105)(23000,.05)(24300,.003)};
\addplot[es,nc8] coordinates {(0,0)(100,.02)(250,.09)(450,.2)(600,.3)(750,.4)(1000,.435)(1200,.47)(1300,.5)(1550,.54)(1700,.55)(1900,.565)(2000,.61)(2400,.615)(2700,.61)(2900,.645)(3200,.67)(3700,.678)(4100,.67)(4300,.655)(4500,.675)(4900,.675)(5300,.69)(6000,.668)(7000,.64)(8000,.6)(9000,.575)(10000,.55)(12000,.475)(14000,.4)(15000,.365)(17000,.27)(20000,.17)(21760,.108)(23000,.055)(24300,.005)};
\end{axis}
\node[rotate=90,font=\tnr\fs{9.6},text=black!85] at (69.6pt,-1041pt) {Enrichment score};
% D: rugs
\begin{axis}[at={(96pt,-1256.3pt)},anchor=south west,width=539pt,height=109.6pt,clip=false,scaled x ticks=false,
  xmin=-371,xmax=24618,ymin=0,ymax=10,xtick=\empty,ytick={1,...,9},yticklabels={},
  ymajorgrids,major grid style={boxc,line width=.9pt},tick style={draw=none},axis line style={boxc,line width=1.2pt}]
\rug{nc1}{9.5}{162}{163,168,175,182,190,222,243,250,268,278,300,330,350,360,385,420,437,447,490,510,535,565,600,650,700,760,812,857,860,886,957,1020,1058,1074,1086,1112,1198,1386,1486}
\rug{nc2}{8.5}{162}{162,165,170,176,182,190,200,215,240,260,275,300,325,345,370,395,425,432,470,520,560,600,640,680,745,760,830,880,993,1217,1255,1267,1287,1357,1381,1406,1431,1488}
\rug{nc3}{7.5}{162}{162,165,168,172,176,180,184,188,192,196,200,205,210,215,220,226,232,238,245,252,260,268,276,285,295,305,320,335,350,365,385,405,425,445,465,490,520,555,590,630,665,700,760,790,1060,1072,1140,1167,1185,1195,1221,1256,1258,1298,1316,1350,1358,1368,1372,1388,1402,1405,1420,1432,1455,1457,1487}
\rug{nc4}{6.5}{162}{162,165,168,172,176,180,185,190,195,200,206,212,218,225,232,240,250,262,275,290,310,330,345,380,400,415,677,768,778,840,869,910,1011,1058,1165,1256,1265,1272,1303,1311,1355,1390,1418,1431,1487}
\rug{nc5}{5.5}{162}{165,172,180,195,210,230,245,262,270,285,300,330,360,385,420,445,490,530,560,600,775,857,878,890,945,957,1037,1073,1160,1258,1288,1401,1420,1474,1488}
\rug{nc6}{4.5}{162}{170,180,195,215,240,270,310,350,395,440,470,530,600,650,715,814,828,840,850,857,868,938,946,976,1036,1058,1072,1086,1123,1133,1147,1232,1270,1300,1332,1338,1345,1355,1402,1420,1442,1455,1487}
\rug{nc7}{3.5}{162}{165,172,180,190,200,215,230,250,270,290,315,345,380,420,480,540,600,660,720,780,850,930,968,975,1060,1075,1228,1234,1282,1340,1350,1357,1388,1403,1418,1438,1455,1487}
\rug{nc8}{2.5}{162}{165,170,175,180,200,225,240,262,270,280,295,310,320,330,395,425,470,525,600,640,680,730,830,900,1027,1063,1320,1350,1486}
\rug{nc9}{1.5}{162}{165,170,180,195,225,255,290,330,380,445,475,525,571,634,682,700,747,770,780,805,822,840,850,858,868,876,882,895,933,941,987,995,1012,1025,1042,1052,1070,1082,1122,1140,1153,1207,1215,1230,1265,1293,1385,1406,1430,1450,1465,1487}
\rug{nc10}{.5}{162}{165,175,190,210,230,250,290,340,390,440,490,540,590,640,690,740,790,840,900,950,980,1005,1018,1058,1075,1085,1112,1120,1138,1205,1225,1245,1253,1268,1297,1406,1430,1460,1470,1487}
\end{axis}
\rugtext{104}{1152.2}{HEMATOPOIETIC\_CELL\_LINEAGE(ES=0.6827,NP=0.0000)}
\rugtext{104}{1163.1}{ANTIGEN\_PROCESSING\_AND\_PRESENTATION(ES=0.6633,NP=0.0078)}
\rugtext{104}{1174.1}{NATURAL\_KILLER\_CELL\_MEDIATED\_CYTOTOXICITY(ES=0.5553,NP=0.0000)}
\rugtext{104}{1185.1}{VIRAL\_MYOCARDITIS(ES=0.6474,NP=0.0000)}
\rugtext{104}{1196}{ECM\_RECEPTOR\_INTERACTION(ES=0.6162,NP=0.0020)}
\rugtext{104}{1207}{JAK\_STAT\_SIGNALING\_PATHWAY(ES=0.5729,NP=0.0040)}
\rugtext{104}{1217.9}{LEUKOCYTE\_TRANSENDOTHELIAL\_MIGRATION(ES=0.6004,NP=0.0000)}
\rugtext{104}{1228.9}{COMPLEMENT\_AND\_COAGULATION\_CASCADES(ES=0.6877,NP=0.0000)}
\rugtext{104}{1239.8}{LYSOSOME(ES=0.6192,NP=0.0060)}
\rugtext{104}{1250.8}{CYTOKINE\_CYTOKINE\_RECEPTOR\_INTERACTION(ES=0.5972,NP=0.0020)}
% D: metric
\begin{axis}[gsea,at={(96pt,-1474pt)},anchor=south west,width=539pt,height=217.7pt,
  xmin=-371,xmax=24618,ymin=-1.025,ymax=1.325,
  xtick={0,5000,10000,15000,20000},xticklabels={0,{5,000},{10,000},{15,000},{20,000}},
  extra x ticks={24300},extra x tick labels={},extra x tick style={grid=none,scaled ticks=false},
  ytick={-.94,-.5,0,.5,1,1.25},yticklabels={,−0.5,0.0,0.5,1.0,}]
\addplot[gridc,line width=1pt,forget plot] coordinates {(-371,1)(23920,1)};
\addplot[gridc,line width=1pt,forget plot] coordinates {(-371,.5)(23920,.5)};
\addplot[gridc,line width=1pt,forget plot] coordinates {(-371,-.5)(23920,-.5)};
\addplot[fill=black!21,draw=none,forget plot] coordinates {(0,0)(0,1.25)(50,1)(100,.95)(200,.88)(500,.77)(1000,.64)(1500,.55)(2000,.49)(3000,.4)(4000,.34)(5000,.29)(7000,.2)(10000,.125)(12000,.07)(14500,0)(17000,-.08)(20000,-.215)(22000,-.33)(23000,-.43)(23500,-.52)(24000,-.68)(24200,-.85)(24300,-.94)(24300,0)} -- cycle;
\addplot[white,line width=.8pt,densely dotted,forget plot] coordinates {(-371,0)(24618,0)};
\node[font=\tnr\fs{9},text=black!85] at (axis cs:375,1.18) {H};
\node[font=\tnr\fs{9},text=black!85] at (axis cs:23880,-.9) {L};
\end{axis}
\node[rotate=90,font=\tnr\fs{9.6},text=black!85] at (63.5pt,-1376pt) {Ranked list metric};
\node[font=\tnr\fs{9.6},text=black!85] at (365.6pt,-1497pt) {Rank in Ordered DataSet};
% E: enrichment
\begin{axis}[gsea,at={(740.6pt,-1146pt)},anchor=south west,width=539.4pt,height=217pt,
  xmin=-367,xmax=24675,ymin=-.108,ymax=.7375,
  xtick={0,5000,10000,15000,20000},xticklabels={},xtick style={draw=none},
  ytick={-.082,0,.2,.4,.6,.707},yticklabels={,0.0,0.2,0.4,0.6,}]
\addplot[gridc,line width=1pt,forget plot] coordinates {(-367,.6)(23900,.6)};
\addplot[gridc,line width=1pt,forget plot] coordinates {(-367,.4)(23900,.4)};
\addplot[gridc,line width=1pt,forget plot] coordinates {(-367,.2)(23900,.2)};
\addplot[gray!60,line width=.8pt,densely dotted,forget plot] coordinates {(-367,0)(24675,0)};
\addplot[es,nc6] coordinates {(0,0)(100,.2)(300,.3)(500,.36)(700,.44)(900,.52)(1100,.57)(1300,.61)(1600,.62)(1900,.65)(2100,.68)(2400,.705)(3000,.705)(3400,.7)(4200,.695)(4800,.685)(5500,.675)(6000,.675)(7000,.65)(8000,.61)(10000,.552)(12000,.46)(14000,.375)(15000,.335)(16500,.285)(18000,.225)(19500,.15)(20000,.14)(21000,.1)(22000,.06)(23000,.03)(24000,.002)};
\addplot[es,nc2] coordinates {(0,0)(100,.12)(300,.3)(500,.35)(800,.37)(1200,.43)(1500,.48)(2000,.52)(2500,.58)(3000,.635)(3600,.66)(4200,.695)(4600,.7)(5200,.68)(6000,.65)(7000,.605)(8500,.555)(10000,.5)(12000,.42)(14000,.325)(15000,.28)(16500,.205)(18000,.14)(19500,.085)(20500,.07)(21000,.065)(22000,.05)(23000,.03)(24000,.002)};
\addplot[es,nc7] coordinates {(0,0)(100,.1)(300,.25)(500,.38)(700,.52)(900,.56)(1100,.59)(1500,.59)(2000,.58)(2500,.58)(3000,.6)(4000,.57)(5000,.56)(6000,.55)(7500,.51)(8500,.48)(10000,.44)(12000,.36)(14000,.26)(15000,.22)(16500,.175)(18000,.125)(19500,.1)(20500,.09)(21300,.09)(22500,.06)(23500,.02)(24000,.002)};
\addplot[es,nc5] coordinates {(0,0)(200,.1)(400,.21)(700,.3)(900,.4)(1100,.48)(1300,.54)(1600,.55)(2000,.58)(2500,.61)(3000,.61)(3600,.64)(4300,.63)(5000,.63)(6000,.6)(7000,.56)(8500,.51)(10000,.46)(12000,.37)(14000,.28)(15000,.24)(16500,.19)(18000,.13)(19500,.1)(20000,.095)(21000,.07)(22000,.05)(23000,.01)(24000,.002)};
\addplot[es,nc4] coordinates {(0,0)(100,.15)(250,.28)(400,.37)(800,.39)(1100,.4)(1300,.44)(1500,.48)(1800,.54)(2100,.57)(2500,.6)(3000,.615)(3700,.615)(4300,.63)(5000,.63)(6000,.595)(7000,.565)(8500,.525)(10000,.475)(12000,.38)(14000,.28)(15000,.235)(16500,.185)(18000,.145)(19500,.095)(20500,.07)(21500,.065)(22500,.04)(23500,.01)(24000,.002)};
\addplot[es,nc10] coordinates {(0,0)(200,.12)(400,.21)(700,.3)(1000,.36)(1300,.4)(1600,.44)(2000,.49)(2400,.53)(2800,.55)(3300,.54)(3800,.53)(4500,.52)(5000,.555)(6000,.545)(7500,.5)(8500,.47)(10000,.435)(12000,.34)(14000,.235)(15000,.19)(16500,.135)(18000,.085)(19500,.04)(20000,.03)(20500,.02)(21500,.015)(22500,.005)(23500,.01)(24000,.002)};
\addplot[es,nc9] coordinates {(0,0)(100,.1)(300,.24)(500,.3)(700,.345)(1000,.37)(1300,.39)(1500,.43)(1800,.47)(2200,.52)(2800,.53)(3300,.545)(3600,.61)(4200,.605)(5000,.585)(6000,.56)(7500,.525)(8500,.505)(10000,.475)(12000,.37)(14000,.28)(15000,.24)(16500,.185)(18000,.14)(19000,.115)(20000,.11)(21000,.09)(22000,.06)(23000,.03)(24000,.002)};
\addplot[es,nc1] coordinates {(0,0)(200,.13)(400,.22)(650,.28)(900,.4)(1100,.47)(1400,.52)(1700,.56)(2000,.59)(2500,.6)(3000,.61)(3600,.615)(4500,.59)(5000,.565)(6000,.54)(7500,.49)(8500,.46)(10000,.43)(12000,.34)(14000,.235)(15000,.195)(16500,.145)(18000,.1)(19500,.05)(20000,.04)(21000,.01)(21800,-.005)(23000,0)(23700,.01)(24100,-.005)};
\addplot[es,nc3] coordinates {(0,0)(200,.1)(400,.2)(700,.25)(1000,.33)(1500,.42)(2000,.46)(2500,.485)(3300,.495)(4000,.48)(5000,.465)(6500,.435)(8000,.385)(10000,.325)(12000,.245)(14000,.15)(15000,.1)(16500,.055)(18000,.015)(19500,-.015)(20000,-.03)(21000,-.055)(22000,-.07)(22900,-.08)(23400,-.05)(23800,-.02)(24300,.002)};
\addplot[es,nc8] coordinates {(0,0)(150,.08)(400,.18)(650,.26)(1000,.34)(1500,.39)(1800,.43)(2200,.48)(2600,.51)(3300,.53)(3700,.54)(4100,.54)(4600,.535)(5500,.51)(7000,.47)(8500,.42)(10000,.375)(12000,.285)(14000,.185)(15000,.145)(16500,.09)(18000,.055)(19500,.01)(20000,-.005)(21000,-.04)(22000,-.05)(23000,-.06)(23800,-.065)(24100,-.04)(24300,0)};
\end{axis}
\node[rotate=90,font=\tnr\fs{9.6},text=black!85] at (714pt,-1041pt) {Enrichment score};
% E: rugs
\begin{axis}[at={(740.6pt,-1256.3pt)},anchor=south west,width=539.4pt,height=109.6pt,clip=false,scaled x ticks=false,
  xmin=-367,xmax=24675,ymin=0,ymax=10,xtick=\empty,ytick={1,...,9},yticklabels={},
  ymajorgrids,major grid style={boxc,line width=.9pt},tick style={draw=none},axis line style={boxc,line width=1.2pt}]
\rug{nc1}{9.5}{148}{150,155,160,170,185,200,215,225,240,262,270,300,320,360,430,470,530,590,660,700,988,1099,1130,1136,1142,1174,1228,1280,1288,1292,1322,1342,1360,1366,1388,1414,1420,1448,1472}
\rug{nc2}{8.5}{148}{150,158,165,175,190,205,225,245,275,300,325,355,395,445,500,565,640,700,770,870,968,992,1038,1268,1282,1314,1327,1355,1390,1472}
\rug{nc3}{7.5}{148}{150,154,158,162,166,170,175,180,185,190,196,202,208,214,220,228,236,244,252,262,272,282,295,310,325,340,360,380,400,420,445,470,495,520,545,590,640,690,740,800,860,900,905,915,920,925,930,935,940,945,955,965,970,990,1005,1025,1030,1037,1068,1098,1105,1112,1118,1125,1130,1135,1140,1145,1150,1160,1165,1175,1180,1203,1218,1228,1255,1270,1295,1305,1320,1340,1370,1385,1405,1410,1415,1420,1425,1430,1435,1440,1445,1452,1458,1465,1472}
\rug{nc4}{6.5}{148}{150,156,162,168,175,182,190,198,206,215,225,235,245,262,280,320,370,420,500,527,580,590,605,640,672,678,685,690,695,700,775,795,802,810,880,920,952,975,1040,1048,1060,1082,1095,1110,1128,1133,1193,1233,1240,1247,1258,1295,1305,1345,1352,1400,1455,1472}
\rug{nc5}{5.5}{148}{150,165,190,230,280,330,400,470,560,620,710,733,755,795,902,912,1008,1122,1168,1188,1245,1272,1303,1348,1402,1420,1470}
\rug{nc6}{4.5}{148}{150,160,175,190,210,235,260,290,330,380,430,490,560,640,700,993,1040,1050,1087,1170,1285,1290,1472}
\rug{nc7}{3.5}{148}{150,165,185,215,250,300,360,420,500,580,660,760,880,950,973,1008,1070,1092,1130,1142,1165,1172,1245,1305,1312,1447,1472}
\rug{nc8}{2.5}{148}{150,156,165,175,190,205,225,240,270,290,300,320,340,370,420,470,500,530,565,600,650,700,780,832,838,843,848,853,858,880,898,907,965,987,1015,1048,1080,1088,1130,1137,1172,1230,1290,1303,1345,1365,1403,1408,1432,1450,1456,1462,1468,1472}
\rug{nc9}{1.5}{148}{150,175,200,240,300,370,440,500,560,640,660,700,733,781,885,920,953,1024,1183,1222,1235,1402,1452,1472}
\rug{nc10}{.5}{148}{150,170,190,225,265,310,360,410,470,530,590,650,720,760,793,820,882,893,897,901,905,910,915,940,960,1045,1050,1072,1080,1100,1108,1120,1150,1197,1288,1295,1340,1362,1372,1380,1390,1400,1418,1455,1472}
\end{axis}
\rugtext{748.5}{1152.2}{LEUKOCYTE\_TRANSENDOTHELIAL\_MIGRATION(ES=0.6151,NP=0.0000)}
\rugtext{748.5}{1163.1}{ANTIGEN\_PROCESSING\_AND\_PRESENTATION(ES=0.7028,NP=0.0000)}
\rugtext{748.5}{1174.1}{REGULATION\_OF\_ACTIN\_CYTOSKELETON(ES=0.4953,NP=0.0000)}
\rugtext{748.5}{1185.1}{LYSOSOME(ES=0.6311,NP=0.0000)}
\rugtext{748.5}{1196}{VIRAL\_MYOCARDITIS(ES=0.6418,NP=0.0000)}
\rugtext{748.5}{1207}{COMPLEMENT\_AND\_COAGULATION\_CASCADES(ES=0.7074,NP=0.0000)}
\rugtext{748.5}{1217.9}{PATHOGENIC\_ESCHERICHIA\_COLI\_INFECTION(ES=0.5976,NP=0.0000)}
\rugtext{748.5}{1228.9}{CELL\_ADHESION\_MOLECULES\_CAMS(ES=0.5457,NP=0.0021)}
\rugtext{748.5}{1239.8}{GLUTATHIONE\_METABOLISM(ES=0.6115,NP=0.0020)}
\rugtext{748.5}{1250.8}{JAK\_STAT\_SIGNALING\_PATHWAY(ES=0.5605,NP=0.0020)}
% E: metric
\begin{axis}[gsea,at={(740.6pt,-1474pt)},anchor=south west,width=539.4pt,height=217.7pt,
  xmin=-367,xmax=24675,ymin=-1.078,ymax=1.268,
  xtick={0,5000,10000,15000,20000},xticklabels={0,{5,000},{10,000},{15,000},{20,000}},
  extra x ticks={24300},extra x tick labels={},extra x tick style={grid=none,scaled ticks=false},
  ytick={-.999,-.5,0,.5,1,1.19},yticklabels={,−0.5,0.0,0.5,1.0,}]
\addplot[gridc,line width=1pt,forget plot] coordinates {(-367,1)(23900,1)};
\addplot[gridc,line width=1pt,forget plot] coordinates {(-367,.5)(23900,.5)};
\addplot[gridc,line width=1pt,forget plot] coordinates {(-367,-.5)(23900,-.5)};
\addplot[fill=black!21,draw=none,forget plot] coordinates {(0,0)(0,1.19)(30,1)(100,.9)(300,.82)(500,.77)(1000,.65)(1500,.55)(2000,.47)(3000,.38)(4000,.32)(5000,.27)(7000,.18)(10000,.09)(13000,.005)(13200,0)(15000,-.05)(17000,-.12)(20000,-.24)(22000,-.36)(23000,-.47)(23500,-.56)(24000,-.7)(24200,-.85)(24300,-.99)(24300,0)} -- cycle;
\addplot[white,line width=.8pt,densely dotted,forget plot] coordinates {(-367,0)(24675,0)};
\node[font=\tnr\fs{9},text=black!85] at (axis cs:375,1.13) {H};
\node[font=\tnr\fs{9},text=black!85] at (axis cs:23880,-.95) {L};
\end{axis}
\node[rotate=90,font=\tnr\fs{9.6},text=black!85] at (708pt,-1376pt) {Ranked list metric};
\node[font=\tnr\fs{9.6},text=black!85] at (1010pt,-1497pt) {Rank in Ordered DataSet};
% caption
\node[anchor=base west,inner sep=0pt,text=black!85] at (24pt,-1553.5pt) {\resizebox{1255pt}{\height}{\fs{18.5}\textbf{FIGURE 10 | }WGCNA and Module Analysis \textbf{(A)} Dendrogram of the differentially expressed genes clustered with dissimilarity measure based on topological overlap}};
\node[anchor=base west,inner sep=0pt,text=black!85] at (24pt,-1579pt) {\resizebox{1297pt}{\height}{\fs{18.5}\textbf{(B)} Heatmap of the correlation between module eigengenes and clinical traits \textbf{(C)} Cytoscape analysis of the intersecting genes in the blue module \textbf{(D)} GSEA analysis}};
\node[anchor=base west,inner sep=0pt,text=black!85] at (24pt,-1604pt) {\resizebox{1094pt}{\height}{\fs{18.5}based on the expression of CASP4 in the CGGA dataset \textbf{(E)} GSEA analysis based on the expression of S100A11 in the CGGA dataset.}};
\end{tikzpicture}
\end{document}
